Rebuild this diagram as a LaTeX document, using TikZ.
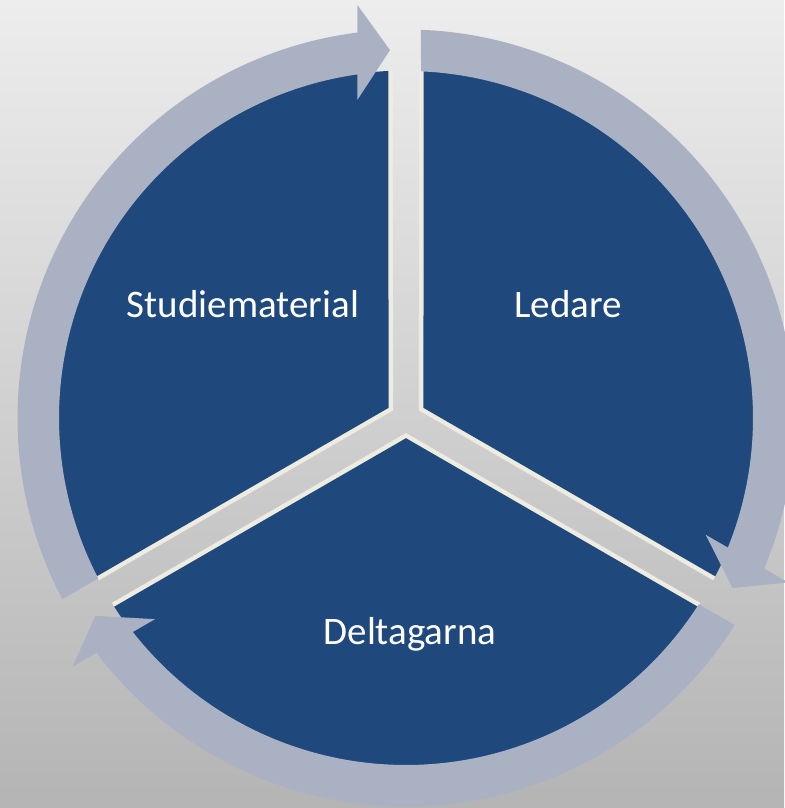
\documentclass[tikz,border=0pt]{standalone}
\usepackage{fontspec}
\setmainfont{Carlito}
\definecolor{bluesec}{RGB}{31,73,125}
\definecolor{ringc}{RGB}{170,177,194}
\definecolor{creamc}{RGB}{238,236,225}
\definecolor{bgtop}{RGB}{237,237,237}
\definecolor{bgbot}{RGB}{180,180,180}
\begin{document}
\begin{tikzpicture}[x=1pt,y=1pt,
  sectorfill/.style={fill=bluesec},
  ringfill/.style={fill=ringc},
  edgeline/.style={draw=creamc,line width=9pt,line join=miter},
  label/.style={text=white,font=\fontsize{39}{44}\selectfont,anchor=base}]
\shade[top color=bgtop,bottom color=bgbot] (-406,-390) rectangle (378,418);
\useasboundingbox (-406,-390) rectangle (378,418);
% cream edges along the gaps
\foreach \a in {0,-120,120} {
  \path[edgeline] (\a+92.89:347.5) -- (\a+150:20.2) -- (\a+207.11:347.5);
}
% blue sectors
\foreach \a in {0,-120,120} {
  \path[sectorfill] (\a+150:20.2) -- (\a+92.89:347.5)
    arc[start angle=\a+92.89, end angle=\a+207.11, radius=347.5] -- cycle;
}
% ring arrows
\foreach \a in {0,-120,120} {
  \path[ringfill] (\a+207.79:388.5)
    arc[start angle=\a+207.79, end angle=\a+97.2, radius=388.5]
    -- (\a+96.72:415.9) -- (\a+92.49:368.3) -- (\a+98.71:321.7)
    -- (\a+98.07:347)
    arc[start angle=\a+98.07, end angle=\a+207.52, radius=347] -- cycle;
}
\node[label] (studie) at (-163,100) {Studiematerial};
\node[label] (ledare) at (162,100) {Ledare};
\node[label] (deltag) at (4,-226) {Deltagarna};
\end{tikzpicture}
\end{document}
